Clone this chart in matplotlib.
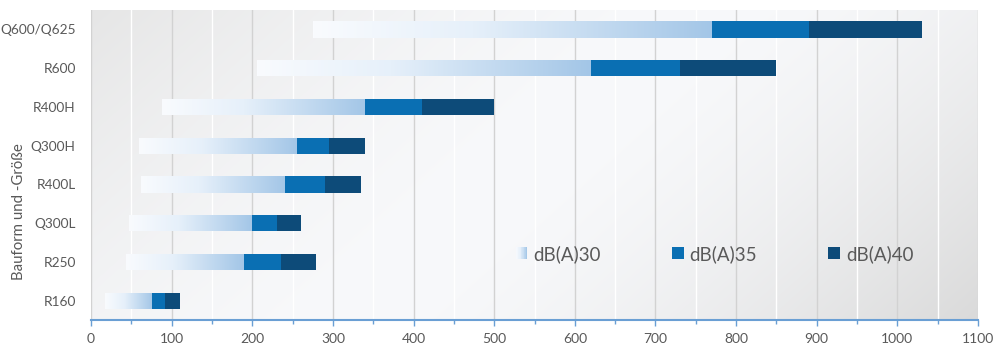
import numpy as np
import matplotlib
matplotlib.use("Agg")
import matplotlib.pyplot as plt
from matplotlib.colors import LinearSegmentedColormap, to_rgb
from matplotlib.patches import Rectangle, Patch
from matplotlib.legend_handler import HandlerBase
from matplotlib.ticker import MultipleLocator

# ---------------- data ----------------
categories = ["R160", "R250", "Q300L", "R400L", "Q300H", "R400H", "R600", "Q600/Q625"]
range_start = [17, 44, 47, 62, 59, 88, 206, 275]
db30_end = [76, 190, 200, 241, 255, 340, 620, 770]
db35_end = [92, 236, 231, 290, 295, 410, 731, 890]
db40_end = [110, 279, 260, 335, 340, 500, 850, 1030]
series_labels = ["dB(A)30", "dB(A)35", "dB(A)40"]
x_ticks = list(range(0, 1101, 100))
y_label = "Bauform und -Größe"

# ---------------- style ----------------
plt.rcParams['font.family'] = ['Lato', 'DejaVu Sans']
C35 = "#0a6fb3"
C40 = "#0d4b79"
TXT = "#595959"
AXC = "#6a9fd4"
grad_cmap = LinearSegmentedColormap.from_list(
    "g30", [(0.0, "#f9fbfe"), (0.4, "#e6f0fa"), (1.0, "#a3c6e7")])

fig = plt.figure(figsize=(10, 3.58), dpi=100)
ax = fig.add_axes([0.091, 0.106, 0.887, 0.866])

# plot-area background gradient
ny, nx = 120, 400
X, Y = np.meshgrid(np.linspace(0, 1, nx), np.linspace(0, 1, ny))
t = 0.72 * X + 0.28 * Y
d = np.abs(t - 0.5) * 2
white = np.array(to_rgb("#f8f9fb"))
gl = np.array(to_rgb("#e6e6e6"))
gr = np.array(to_rgb("#dadada"))
gray = np.where((t < 0.5)[..., None], gl, gr)
img = white + (gray - white) * (d ** 1.6)[..., None]
ax.imshow(img, extent=(0, 1, 0, 1), transform=ax.transAxes, origin="upper",
          aspect="auto", zorder=-1, interpolation="bilinear")

y = np.arange(len(categories))
h = 0.42
w30 = np.array(db30_end) - np.array(range_start)
w35 = np.array(db35_end) - np.array(db30_end)
w40 = np.array(db40_end) - np.array(db35_end)

bars30 = ax.barh(y, w30, left=range_start, height=h, color="none",
                 edgecolor="none", zorder=2)
grad = np.linspace(0, 1, 256).reshape(1, -1)
for p in bars30:
    x0, y0 = p.get_x(), p.get_y()
    im = ax.imshow(grad, cmap=grad_cmap, extent=(x0, x0 + p.get_width(), y0, y0 + p.get_height()),
                   aspect="auto", zorder=2, interpolation="bilinear", origin="lower")
    im.set_clip_path(p)
ax.barh(y, w35, left=db30_end, height=h, color=C35, edgecolor="none", zorder=3)
ax.barh(y, w40, left=db35_end, height=h, color=C40, edgecolor="none", zorder=3)

ax.set_xlim(0, 1100)
ax.set_ylim(-0.5, len(categories) - 0.5)
ax.set_aspect("auto")
ax.set_xticks(x_ticks)
ax.xaxis.set_minor_locator(MultipleLocator(50))
ax.set_yticks(y)
ax.set_yticklabels(categories)

ax.set_axisbelow(True)
ax.grid(which="major", axis="x", color="#d2d2d2", lw=1.0)
ax.grid(which="minor", axis="x", color="#ffffff", lw=1.0)

for s in ("top", "right", "left"):
    ax.spines[s].set_visible(False)
ax.spines["bottom"].set_color(AXC)
ax.spines["bottom"].set_linewidth(1.5)

ax.tick_params(axis="y", length=0, pad=11, labelsize=9.8, labelcolor=TXT)
ax.tick_params(axis="x", which="major", direction="out", length=4, width=1,
               color=AXC, pad=5, labelsize=10, labelcolor=TXT)
ax.tick_params(axis="x", which="minor", direction="out", length=3, width=1, color=AXC)

fig.text(0.0195, 0.41, y_label, rotation=90, va="center", ha="center",
         fontsize=10.8, color=TXT)


class GradHandler(HandlerBase):
    def create_artists(self, legend, orig_handle, xdescent, ydescent, width, height, fontsize, trans):
        n = 16
        arts = []
        for k in range(n):
            r = Rectangle((-xdescent + k * width / n, -ydescent), width / n + 0.2, height,
                          facecolor=grad_cmap((k + 0.5) / n), edgecolor="none", transform=trans)
            arts.append(r)
        return arts


h30 = Patch(facecolor="#cfe1f3")
h35 = Patch(facecolor=C35)
h40 = Patch(facecolor=C40)
leg = ax.legend([h30, h35, h40], series_labels, handler_map={h30: GradHandler()},
                loc="center", bbox_to_anchor=(0.703, 0.213), ncol=3, frameon=False,
                fontsize=13.5, handlelength=0.62, handleheight=0.62, handletextpad=0.32,
                columnspacing=3.8, labelcolor=TXT)

fig.savefig("out.png", dpi=100)
